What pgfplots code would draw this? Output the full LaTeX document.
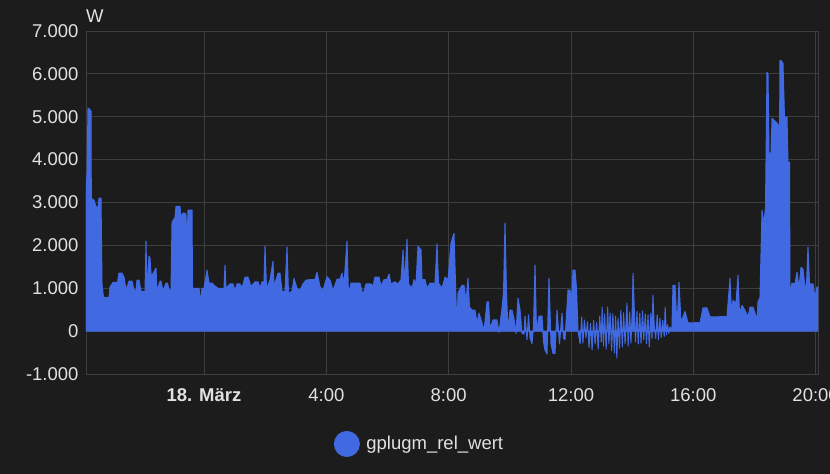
\documentclass[border=0pt]{standalone}
\usepackage{pgfplots}
\pgfplotsset{compat=1.18}
\usepackage{pgfplotstable}
\usepackage{fontspec}
\setmainfont{Liberation Sans}
\definecolor{bgc}{RGB}{28,28,28}
\definecolor{gridc}{RGB}{62,62,62}
\definecolor{txtc}{RGB}{225,225,225}
\definecolor{bluec}{RGB}{65,105,225}
\pgfplotstableread{
t w
-3.859 3300
-3.826 3680
-3.793 5200
-3.744 5180
-3.695 5130
-3.685 3100
-3.597 3050
-3.532 2900
-3.466 2900
-3.434 3100
-3.368 3100
-3.335 1070
-3.286 790
-3.107 790
-3.074 1025
-2.976 1140
-2.878 1140
-2.845 1070
-2.780 1350
-2.681 1350
-2.616 1260
-2.551 955
-2.453 1165
-2.354 1165
-2.289 955
-2.224 955
-2.191 1190
-2.126 1190
-2.060 930
-1.929 930
-1.897 2100
-1.864 960
-1.799 1750
-1.766 1700
-1.733 1330
-1.668 1330
-1.570 1470
-1.537 930
-1.439 1165
-1.406 1165
-1.341 930
-1.243 1120
-1.194 1120
-1.145 960
-1.079 960
-1.046 2540
-0.948 2650
-0.916 2910
-0.785 2910
-0.752 2650
-0.687 2750
-0.621 2750
-0.589 2700
-0.556 2050
-0.523 2820
-0.392 2820
-0.376 1000
-0.294 1000
-0.164 1000
-0.114 680
-0.065 1000
0.000 1000
0.098 1420
0.164 1120
0.262 1120
0.360 1050
0.458 1000
0.589 1000
0.654 1000
0.687 1540
0.719 1000
0.850 1100
0.948 1100
1.014 950
1.079 1100
1.177 1100
1.243 1000
1.341 1260
1.439 1260
1.537 1040
1.668 1150
1.766 1150
1.831 1000
1.897 1150
1.962 1150
1.995 1980
2.044 1000
2.158 1190
2.256 1630
2.289 1040
2.420 1350
2.485 1350
2.551 930
2.649 930
2.714 1960
2.763 880
2.878 930
2.943 1230
3.041 1000
3.139 950
3.237 1100
3.335 1190
3.466 1200
3.630 1200
3.695 1375
3.793 1040
3.891 950
4.022 1270
4.120 1190
4.218 950
4.349 1210
4.447 1210
4.513 1350
4.578 1100
4.676 2100
4.725 840
4.807 1120
5.101 1120
5.199 840
5.297 1100
5.461 1100
5.526 1050
5.592 1260
5.723 1260
5.788 1050
5.886 1200
5.984 1200
6.050 1330
6.115 1100
6.246 1150
6.344 1100
6.442 1200
6.507 1890
6.556 1100
6.638 2140
6.687 1100
6.802 1000
6.867 1200
6.932 1100
6.998 1980
7.096 1900
7.129 1200
7.227 1200
7.292 1000
7.390 1120
7.554 1120
7.619 2030
7.668 1120
7.783 1000
7.881 1260
7.979 1200
8.077 2050
8.126 2170
8.175 2280
8.224 1120
8.273 20
8.306 880
8.371 990
8.437 1070
8.502 1070
8.567 700
8.633 1230
8.682 560
8.764 490
8.862 490
8.927 190
8.993 420
9.091 190
9.156 0
9.254 680
9.303 680
9.352 50
9.450 260
9.581 260
9.647 -30
9.745 530
9.794 900
9.843 2520
9.892 880
9.941 0
10.006 490
10.072 490
10.137 280
10.202 -50
10.268 770
10.333 500
10.399 -50
10.464 -70
10.497 350
10.562 -200
10.611 380
10.660 -150
10.726 -290
10.775 100
10.824 1540
10.873 0
10.955 350
11.053 350
11.102 -250
11.151 -440
11.216 -535
11.282 1230
11.347 -300
11.412 -520
11.478 -520
11.543 490
11.625 -300
11.707 420
11.756 -170
11.805 -200
11.903 955
11.968 955
12.017 700
12.066 1420
12.132 1420
12.181 1000
12.230 0
12.30 -300
12.35 330
12.39 -280
12.44 260
12.49 -150
12.54 220
12.59 -380
12.64 180
12.69 -440
12.74 250
12.79 -300
12.84 200
12.89 -420
12.94 350
12.99 -250
13.02 560
13.06 -350
13.10 400
13.15 -420
13.20 560
13.24 -300
13.28 420
13.33 -450
13.37 400
13.42 -510
13.46 350
13.50 -630
13.54 300
13.59 -400
13.63 480
13.68 -370
13.72 430
13.77 -300
13.83 650
13.87 -350
13.92 450
13.96 -280
14.00 400
14.03 1350
14.07 500
14.11 -250
14.16 460
14.20 -300
14.25 420
14.29 -280
14.34 470
14.38 -200
14.43 400
14.47 -290
14.52 380
14.56 -370
14.61 420
14.65 -170
14.68 840
14.72 150
14.77 -170
14.82 380
14.86 -200
14.91 300
14.95 -150
15.00 250
15.05 -120
15.08 560
15.12 -90
15.16 150
15.20 -50
15.24 100
15.30 0
15.336 1070
15.402 1070
15.467 100
15.533 1140
15.598 200
15.729 460
15.827 190
15.958 190
16.121 200
16.219 190
16.317 540
16.448 540
16.547 330
17.102 340
17.200 1230
17.249 400
17.298 720
17.396 650
17.462 1300
17.511 400
17.593 600
17.691 480
17.789 330
17.854 560
17.952 560
18.018 420
18.083 260
18.116 680
18.181 790
18.247 2820
18.312 2510
18.361 2900
18.410 6040
18.443 5990
18.476 4150
18.541 4150
18.574 4960
18.672 4900
18.737 4850
18.786 4800
18.803 2590
18.835 6310
18.868 6310
18.933 6250
18.982 4990
19.064 4990
19.097 3940
19.146 3940
19.162 880
19.228 1120
19.326 1100
19.391 1375
19.457 1000
19.522 1490
19.587 1450
19.653 1000
19.702 1100
19.751 1960
19.800 1100
19.914 1100
19.980 790
20.045 1030
20.078 1030
}\power
\begin{document}
\begin{tikzpicture}
\useasboundingbox[fill=bgc] (-86bp,-100bp) rectangle (744bp,374bp);
\begin{axis}[
  at={(0,0)}, anchor=south west,
  scale only axis, width=732bp, height=343bp,
  xmin=-3.859, xmax=20.078,
  ymin=-1000, ymax=7000,
  xtick={0,4,8,12,16,20},
  xticklabels={\textbf{18. März},4:00,8:00,12:00,16:00,20:00},
  ytick={-1000,0,1000,2000,3000,4000,5000,6000,7000},
  yticklabels={-1.000,0,1.000,2.000,3.000,4.000,5.000,6.000,7.000},
  major tick length=0pt,
  grid=major,
  grid style={gridc, line width=0.9bp},
  axis line style={gridc, line width=0.9bp},
  tick label style={font=\fontsize{18.5bp}{21bp}\selectfont, text=txtc},
  xticklabel style={yshift=-11bp},
  yticklabel style={xshift=-4bp},
  legend style={at={(axis description cs:0.4556,-0.204)}, anchor=center,
    draw=none, fill=none, text=txtc, font=\fontsize{18.5bp}{21bp}\selectfont,
    inner sep=0pt},
  legend image code/.code={\fill[bluec] (0bp,0bp) circle (12.5bp); \path (17bp,0bp);},
]
\addplot[draw=bluec, line width=1bp, line join=round, fill=bluec] table[x=t,y=w] {\power} \closedcycle;
\addlegendentry{gplugm\_rel\_wert}
\end{axis}
\node[anchor=base west, inner sep=0pt, text=txtc, font=\fontsize{18.5bp}{21bp}\selectfont] at (0bp,351bp) {W};
\end{tikzpicture}
\end{document}
